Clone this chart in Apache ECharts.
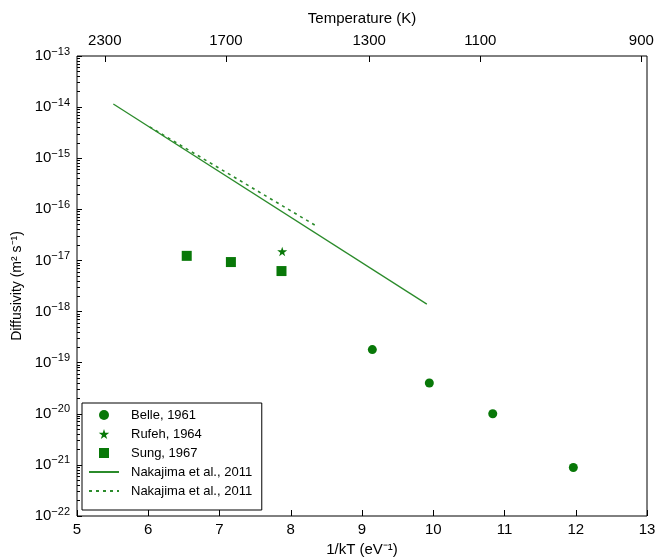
<!DOCTYPE html>
<html>
<head>
<meta charset="utf-8">
<script src="https://cdn.jsdelivr.net/npm/echarts@6/dist/echarts.min.js"></script>
<style>
  html, body { margin: 0; padding: 0; background: #fff; }
  #chart { width: 656px; height: 558px; }
</style>
</head>
<body>
<div id="chart"></div>
<script>
// 读图得到的数据 (m² s⁻¹)
const belleX = [9.145, 9.945, 10.835, 11.966];
const belleY = [1.8e-19, 4.0e-20, 1.0e-20, 8.9e-22];
const rufehX = [7.88];
const rufehY = [1.5e-17];
const sungX = [6.54, 7.16, 7.87];
const sungY = [1.23e-17, 9.3e-18, 6.2e-18];
const nakaSolidX = [5.51, 9.91];
const nakaSolidY = [1.15e-14, 1.4e-18];
const nakaDashX = [6.02, 8.34];
const nakaDashY = [4.1e-15, 4.9e-17];

// 顶部温度轴
const tempLabels = ['2300', '1700', '1300', '1100', '900'];
const tempPos = [5.39, 7.09, 9.10, 10.66, 12.92];

const green = '#087808';
const lineGreen = '#2b8b2b';
const font = 'Liberation Sans, Arial, sans-serif';

// v6 的 log 轴在 1e-22 这种量级下会算出 NaN，所以 y 轴用 log10 值
function pairs(xs, ys) {
    return xs.map((x, i) => [x, Math.log10(ys[i])]);
}

// 次刻度 (2..9 × 10^n)
const minorTicks = [];
for (let e = -22; e < -13; e++) {
    for (let k = 2; k <= 9; k++) {
        minorTicks.push(e + Math.log10(k));
    }
}

const starPath = 'path://M50,0 L61,35 L98,35 L68,57 L79,91 L50,70 L21,91 L32,57 L2,35 L39,35 Z';
const squarePath = 'path://M0,0 L10,0 L10,10 L0,10 Z';

const chart = echarts.init(document.getElementById('chart'));

const option = {
    animation: false,
    textStyle: { fontFamily: font },
    grid: {
        left: 77, right: 9, top: 56, bottom: 42,
        outerBoundsMode: 'none',
        show: true, borderColor: '#000', borderWidth: 1
    },
    xAxis: [
        {
            type: 'value',
            min: 5, max: 13, interval: 1,
            position: 'bottom',
            name: '1/kT (eV⁻¹)',
            nameLocation: 'middle',
            nameGap: 25,
            nameTextStyle: { fontSize: 15, color: '#000' },
            axisLine: { show: false },
            axisTick: { inside: true, length: 6, lineStyle: { color: '#000' } },
            axisLabel: { fontSize: 15, color: '#000', margin: 6 },
            splitLine: { show: false }
        },
        {
            type: 'value',
            min: 5, max: 13,
            position: 'top',
            name: 'Temperature (K)',
            nameLocation: 'middle',
            nameGap: 30,
            nameTextStyle: { fontSize: 15, color: '#000' },
            axisLine: { show: false },
            axisTick: { inside: true, length: 6, customValues: tempPos, lineStyle: { color: '#000' } },
            axisLabel: {
                fontSize: 15, color: '#000', margin: 8,
                customValues: tempPos,
                formatter: function (v) {
                    const i = tempPos.findIndex(p => Math.abs(p - v) < 1e-6);
                    return i >= 0 ? tempLabels[i] : '';
                }
            },
            splitLine: { show: false }
        }
    ],
    yAxis: [
        {
            type: 'value',
            min: -22, max: -13, interval: 1,
            name: 'Diffusivity (m² s⁻¹)',
            nameLocation: 'middle',
            nameGap: 44,
            nameTextStyle: { fontSize: 14, color: '#000' },
            axisLine: { show: false },
            axisTick: { inside: true, length: 5, lineStyle: { color: '#000' } },
            axisLabel: {
                margin: 7,
                formatter: function (v) {
                    return '{a|10}{b|−' + Math.abs(Math.round(v)) + '}';
                },
                rich: {
                    a: { fontSize: 15, color: '#000', lineHeight: 20 },
                    b: { fontSize: 11, color: '#000', verticalAlign: 'top', lineHeight: 12 }
                }
            },
            splitLine: { show: false }
        },
        {
            type: 'value',
            min: -22, max: -13,
            position: 'left',
            axisLine: { show: false },
            axisTick: { inside: true, length: 3, customValues: minorTicks, lineStyle: { color: '#000' } },
            axisLabel: { show: false },
            splitLine: { show: false }
        }
    ],
    legend: {
        orient: 'vertical',
        left: 82, top: 403,
        borderColor: '#000', borderWidth: 1,
        padding: [5, 6, 12, 6],
        itemWidth: 30, itemHeight: 10, itemGap: 5,
        symbolKeepAspect: true,
        textStyle: { fontSize: 13, color: '#000', lineHeight: 14, padding: [0, 0, 0, 7] },
        data: [
            'Belle, 1961',
            'Rufeh, 1964',
            'Sung, 1967',
            { name: 'Nakajima et al., 2011', itemStyle: { opacity: 0 } },
            { name: 'Nakajima et al., 2011 ', itemStyle: { opacity: 0 } }
        ]
    },
    series: [
        {
            name: 'Belle, 1961', type: 'scatter',
            symbol: 'circle', symbolSize: 9,
            itemStyle: { color: green, opacity: 1 },
            data: pairs(belleX, belleY)
        },
        {
            name: 'Rufeh, 1964', type: 'scatter',
            symbol: starPath, symbolSize: 10, symbolKeepAspect: true,
            itemStyle: { color: green, opacity: 1 },
            data: pairs(rufehX, rufehY)
        },
        {
            name: 'Sung, 1967', type: 'scatter',
            symbol: squarePath, symbolSize: 10, symbolKeepAspect: true,
            itemStyle: { color: green, opacity: 1 },
            data: pairs(sungX, sungY)
        },
        {
            name: 'Nakajima et al., 2011', type: 'line',
            symbol: 'none',
            lineStyle: { color: lineGreen, width: 1.3 },
            itemStyle: { color: lineGreen },
            data: pairs(nakaSolidX, nakaSolidY)
        },
        {
            name: 'Nakajima et al., 2011 ', type: 'line',
            symbol: 'none',
            lineStyle: { color: lineGreen, width: 1.6, type: [3, 4] },
            itemStyle: { color: lineGreen },
            data: pairs(nakaDashX, nakaDashY)
        }
    ]
};

chart.setOption(option);
</script>
</body>
</html>
